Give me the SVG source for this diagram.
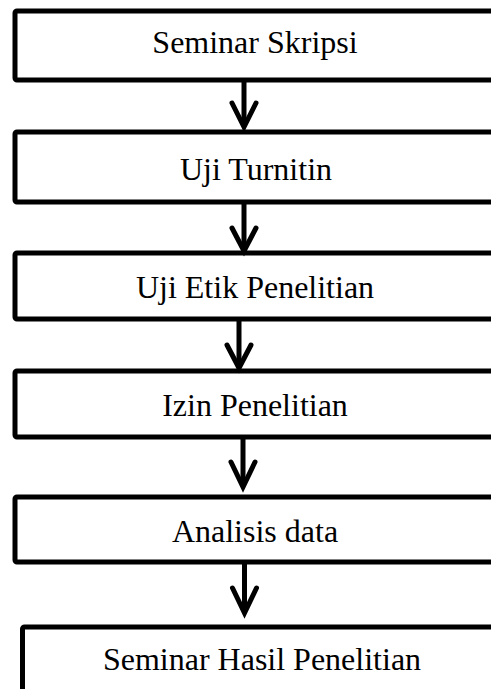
<svg xmlns="http://www.w3.org/2000/svg" width="491" height="689" viewBox="0 0 491 689">
  <style>
    .box { fill: #ffffff; stroke: #000000; stroke-width: 5; stroke-linejoin: round; }
    .label { font-family: "Liberation Serif", "Times New Roman", serif; font-size: 32px; fill: #000000; text-anchor: middle; }
    .shaft { stroke: #000000; stroke-width: 5; fill: none; }
    .head { stroke: #000000; stroke-width: 5; fill: none; stroke-linecap: round; stroke-linejoin: miter; }
  </style>
  <rect width="491" height="689" fill="#ffffff"/>

  <g id="node-seminar-skripsi">
    <rect class="box" x="15" y="11" width="500" height="69" rx="2"/>
    <text class="label" x="255" y="53">Seminar Skripsi</text>
  </g>
  <g id="node-uji-turnitin">
    <rect class="box" x="15" y="132" width="500" height="70" rx="2"/>
    <text class="label" x="256" y="180">Uji Turnitin</text>
  </g>
  <g id="node-uji-etik">
    <rect class="box" x="15" y="253" width="500" height="66" rx="2"/>
    <text class="label" x="255" y="298">Uji Etik Penelitian</text>
  </g>
  <g id="node-izin">
    <rect class="box" x="15" y="371" width="500" height="66" rx="2"/>
    <text class="label" x="255" y="416">Izin Penelitian</text>
  </g>
  <g id="node-analisis">
    <rect class="box" x="15" y="497" width="500" height="65" rx="2"/>
    <text class="label" x="255" y="542">Analisis data</text>
  </g>
  <g id="node-seminar-hasil">
    <rect class="box" x="22.5" y="627" width="500" height="100" rx="2"/>
    <text class="label" x="262" y="670">Seminar Hasil Penelitian</text>
  </g>

  <g id="connectors">
    <line class="shaft" x1="244" y1="80" x2="244" y2="126"/>
    <polyline class="head" points="232,103 244,127 256,103"/>

    <line class="shaft" x1="244" y1="202" x2="244" y2="250"/>
    <polyline class="head" points="232,228 244,251 256,228"/>

    <line class="shaft" x1="239" y1="319" x2="239" y2="367"/>
    <polyline class="head" points="227,345 239,368 251,345"/>

    <line class="shaft" x1="243" y1="437" x2="243" y2="486"/>
    <polyline class="head" points="231,462 243,487 255,462"/>

    <line class="shaft" x1="244.5" y1="562" x2="244.5" y2="612"/>
    <polyline class="head" points="232.5,588 244.5,613 256.5,588"/>
  </g>
</svg>
